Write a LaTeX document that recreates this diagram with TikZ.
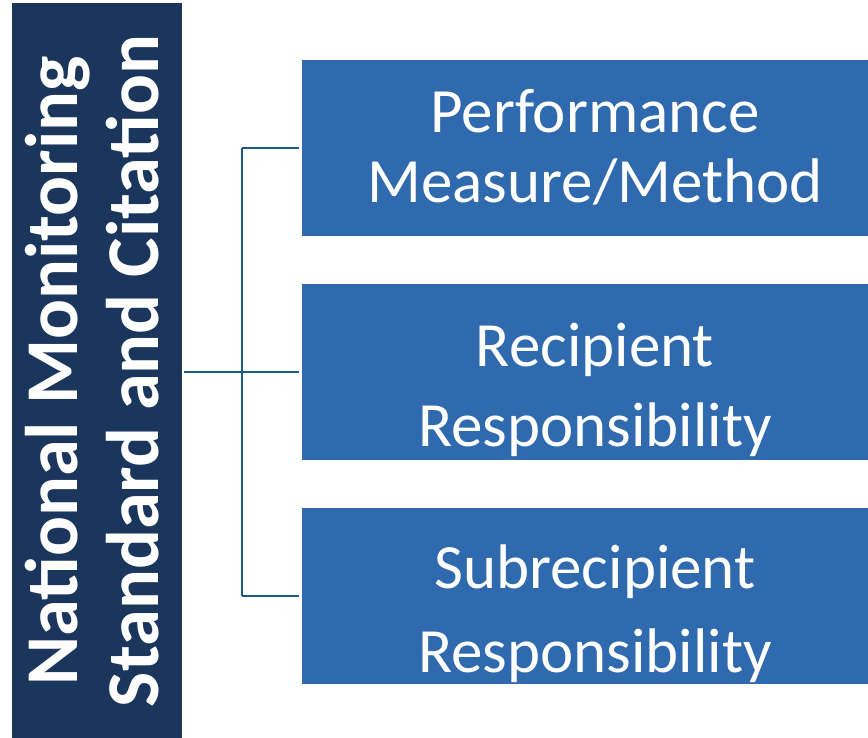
\documentclass[tikz,border=0pt]{standalone}
\usepackage{fontspec}
\setmainfont{Carlito}
\definecolor{navy}{HTML}{1B365D}
\definecolor{boxblue}{HTML}{2F6AAE}
\definecolor{linkblue}{HTML}{1F5A84}
\begin{document}
\begin{tikzpicture}[x=1pt, y=-1pt,
        branch/.style={fill=boxblue, minimum width=586pt, minimum height=176pt, inner sep=0pt},
        boxtext/.style={text=white, align=center, inner sep=0pt},
        link/.style={draw=linkblue, line width=2.8pt}]
        \useasboundingbox (0,0) rectangle (868,738);
        
        % left column
        \node[fill=navy, minimum width=170pt, minimum height=735pt, inner sep=0pt] (L) at (97,370.5) {};
        \node[boxtext, rotate=90, font=\bfseries\fontsize{74.5}{81}\selectfont] (LT) at (92,371) {National Monitoring\\Standard and Citation};
        
        % right boxes
        \node[branch] (B1) at (595,148) {};
        \node[branch] (B2) at (595,372) {};
        \node[branch] (B3) at (595,596) {};
        
        \node[boxtext, font=\fontsize{63}{70}\selectfont] (T1) at (595,147) {Performance\\Measure/Method};
        \node[boxtext, font=\fontsize{63}{80}\selectfont] (T2) at (595,390) {Recipient\\Responsibility};
        \node[boxtext, font=\fontsize{63}{84}\selectfont] (T3) at (595,614) {Subrecipient\\Responsibility};
        
        % connector
        \coordinate (J) at (242,372);
        \coordinate (J1) at (J |- B1.west);
        \coordinate (J3) at (J |- B3.west);
        
        \draw[link] (L.east) ++(2,1.5) -- (J);
        \draw[link] (J1) -- (J3);
        \draw[link] (J1) -- ([xshift=-3pt]B1.west);
        \draw[link] (J) -- ([xshift=-3pt]B2.west);
        \draw[link] (J3) -- ([xshift=-3pt]B3.west);
    \end{tikzpicture}
\end{document}
